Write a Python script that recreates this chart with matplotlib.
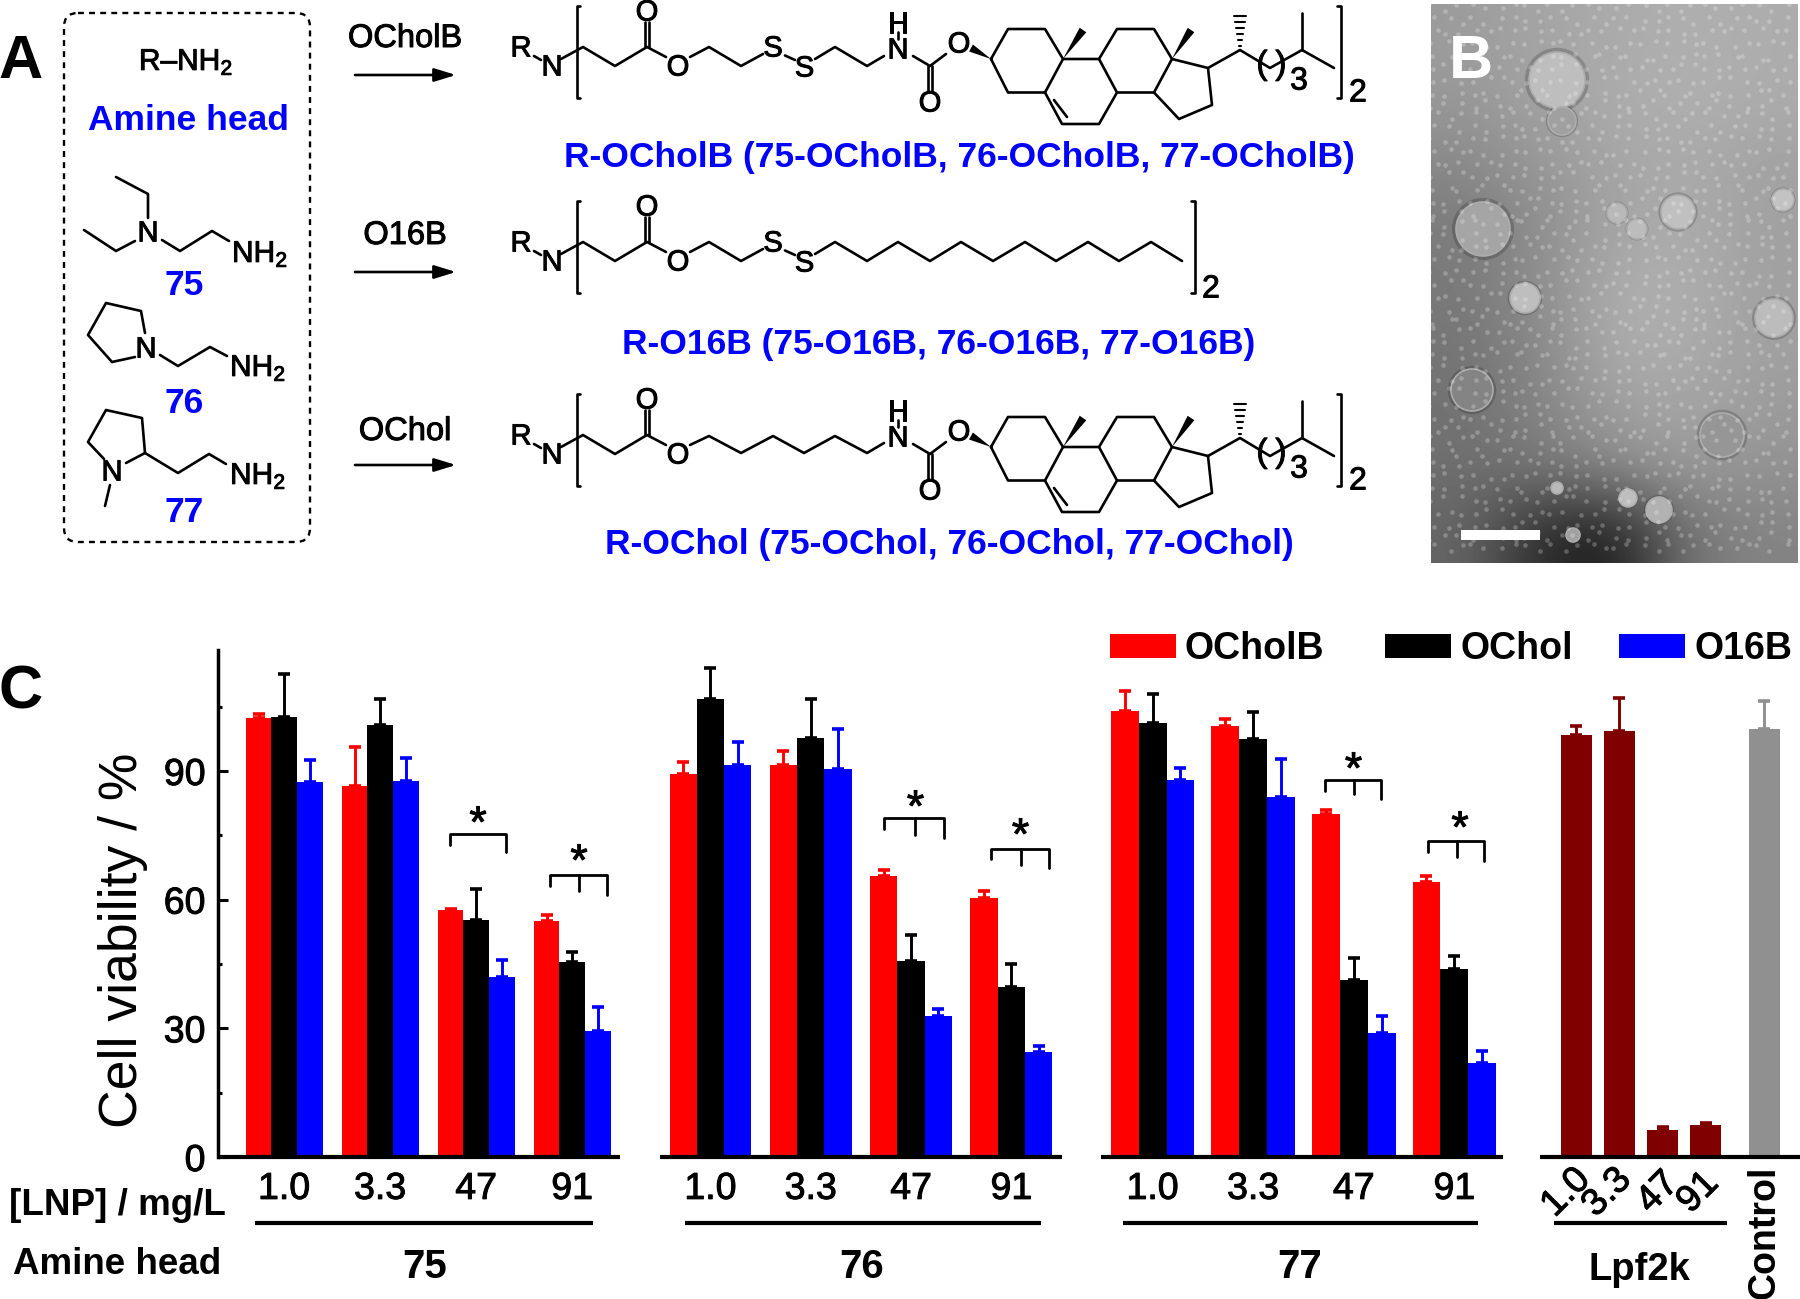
import numpy as np
import matplotlib
matplotlib.use('Agg')
import matplotlib.pyplot as plt
import matplotlib.patheffects as pe
from matplotlib.patches import Circle, FancyBboxPatch, Polygon, Rectangle

plt.rcParams['font.family'] = ['Liberation Sans', 'DejaVu Sans']
plt.rcParams['mathtext.fontset'] = 'custom'
plt.rcParams['mathtext.rm'] = 'Liberation Sans'
plt.rcParams['mathtext.bf'] = 'Liberation Sans:bold'

# Panel C values, order of doses is 1.0, 3.3, 47, 91
doses = ['1.0', '3.3', '47', '91']
ocholb_75 = [102.4, 86.6, 57.5, 55.1]
ochol_75 = [102.5, 100.8, 55.3, 45.4]
o16b_75 = [87.5, 87.7, 42.0, 29.3]
ocholb_76 = [89.4, 91.5, 65.5, 60.3]
ochol_76 = [106.7, 97.6, 45.8, 39.6]
o16b_76 = [91.4, 90.4, 32.9, 24.4]
ocholb_77 = [103.9, 100.4, 79.9, 64.1]
ochol_77 = [101.2, 97.5, 41.3, 43.8]
o16b_77 = [88.0, 83.9, 29.0, 21.9]
ocholb_75_err = [0.8, 9.0, 0.4, 1.3]
ochol_75_err = [10.0, 6.0, 7.2, 2.5]
o16b_75_err = [5.1, 5.3, 4.0, 5.7]
ocholb_76_err = [2.6, 3.2, 1.4, 1.7]
ochol_76_err = [7.2, 9.1, 5.9, 5.3]
o16b_76_err = [5.4, 9.3, 1.7, 1.5]
ocholb_77_err = [4.8, 1.8, 0.9, 1.5]
ochol_77_err = [6.8, 6.3, 5.2, 3.1]
o16b_77_err = [2.8, 8.9, 3.8, 2.8]
lpf2k = [98.4, 99.4, 6.4, 7.5]
lpf2k_err = [2.0, 7.7, 0.5, 0.5]
control = [99.8]
control_err = [6.4]

RED, BLUE, BLACK = '#ff0000', '#0000ff', '#000000'
MAROON, GRAY = '#800000', '#909090'
HEAVY = [pe.withStroke(linewidth=0.7, foreground='black')]

fig = plt.figure(figsize=(18, 12.99), dpi=100)

# overlay in image pixels, for the schemes and annotations
ov = fig.add_axes([0, 0, 1, 1])
ov.set_xlim(0, 1800)
ov.set_ylim(1299, 0)
ov.axis('off')


def txt(x, y, s, size=22, color='black', weight='normal', **kw):
    t = ov.text(x, y + 2.5, s, fontsize=size, color=color, fontweight=weight,
                ha=kw.pop('ha', 'center'), va=kw.pop('va', 'center'), **kw)
    if weight == 'normal' and color == 'black':
        t.set_path_effects(HEAVY)
    return t


def bond(*pts, lw=1.9):
    xs, ys = zip(*pts)
    ov.plot(xs, ys, color='black', lw=lw, solid_capstyle='round', solid_joinstyle='round')


def wedge(a, b, w=5.5):
    # narrow at a, wide at b
    a, b = np.array(a), np.array(b)
    d = b - a
    n = np.array([-d[1], d[0]]) / np.hypot(*d) * w
    ov.add_patch(Polygon([a, b + n, b - n], closed=True, color='black', lw=0))


# ---- panel A
ov.add_patch(FancyBboxPatch((64, 13), 246, 529, boxstyle='round,pad=0,rounding_size=14',
                            fc='none', ec='black', lw=1.7, ls=(0, (2.5, 2.2))))

txt(21, 60, 'A', size=44, weight='bold')
txt(186, 60, 'R–NH$_2$', size=21.5)
txt(188, 118, 'Amine head', size=25.5, color=BLUE, weight='bold')
txt(184, 283, '75', size=25.5, color=BLUE, weight='bold')
txt(184, 401, '76', size=25.5, color=BLUE, weight='bold')
txt(184, 510, '77', size=25.5, color=BLUE, weight='bold')

# amine 75
bond((116, 177), (148, 194), (148, 218))
bond((84, 230), (116, 251), (135, 241))
bond((162, 240), (180, 251), (212, 231), (229, 241))
txt(148, 231, 'N', size=21)
txt(232, 252, 'NH$_2$', size=21.5, ha='left')
# amine 76
bond((135, 357), (112, 362), (88, 335), (106, 303), (141, 311), (145, 333))
bond((160, 355), (178, 366), (210, 347), (227, 356))
txt(146, 347, 'N', size=21)
txt(230, 366, 'NH$_2$', size=21.5, ha='left')
# amine 77
bond((104, 459), (88, 442), (106, 410), (142, 418), (145, 453), (126, 463))
bond((145, 453), (178, 473), (209, 454), (226, 464))
bond((110, 485), (105, 506))
txt(112, 470, 'N', size=21)
txt(230, 474, 'NH$_2$', size=21.5, ha='left')

# reaction arrows
for lab, ya, yt in [('OCholB', 75, 36), ('O16B', 272, 233), ('OChol', 465, 429)]:
    txt(405, yt, lab, size=23.5)
    ov.annotate('', xy=(456, ya), xytext=(355, ya),
                arrowprops=dict(arrowstyle='-|>,head_length=1.3,head_width=0.4', color='black',
                                lw=1.9, shrinkA=0, shrinkB=0))


def lipid_head(dy):
    txt(521, 46 + dy, 'R', size=21)
    txt(552, 65 + dy, 'N', size=21)
    bond((534, 56 + dy), (541, 60 + dy))
    bond((561, 59 + dy), (583, 47 + dy), (615, 66 + dy), (647, 47 + dy), (666, 57 + dy))
    bond((645, 47 + dy), (645, 22 + dy))
    bond((649, 47 + dy), (649, 22 + dy))
    txt(647, 10 + dy, 'O', size=21)
    txt(678, 65 + dy, 'O', size=21)
    bond((580, 5.5 + dy), (576.5, 5.5 + dy), (576.5, 98 + dy), (580, 98 + dy))


def disulfide(dy):
    bond((690, 57 + dy), (709, 47 + dy), (741, 66 + dy), (763, 54 + dy))
    txt(773, 46 + dy, 'S', size=21)
    bond((785, 55.5 + dy), (795, 60 + dy))
    txt(804.5, 66 + dy, 'S', size=21)


def steroid(dy):
    txt(898, 22 + dy, 'H', size=21)
    txt(898, 48 + dy, 'N', size=21)
    bond((898, 32 + dy), (898, 39 + dy))
    bond((913, 56 + dy), (930, 66 + dy), (946, 54 + dy))
    bond((928, 66 + dy), (928, 91 + dy))
    bond((932, 66 + dy), (932, 91 + dy))
    txt(930, 101 + dy, 'O', size=21)
    txt(959, 42 + dy, 'O', size=21)
    wedge((991, 59 + dy), (971, 48 + dy), 4)
    bond((991, 59 + dy), (1008, 29 + dy), (1045, 29 + dy), (1063, 59 + dy), (1045, 92.5 + dy),
         (1008, 92.5 + dy), (991, 59 + dy))
    wedge((1063, 59 + dy), (1083, 30 + dy), 4)
    bond((1063, 59 + dy), (1099, 59 + dy), (1117, 92.5 + dy), (1099, 124 + dy), (1062, 124 + dy),
         (1045, 92.5 + dy))
    bond((1054, 100 + dy), (1067, 117 + dy))
    bond((1099, 59 + dy), (1117, 29 + dy), (1154, 29 + dy), (1172, 59 + dy), (1154, 92.5 + dy),
         (1117, 92.5 + dy))
    wedge((1172, 59 + dy), (1191, 30 + dy), 4)
    bond((1172, 59 + dy), (1208, 68 + dy), (1212, 105 + dy), (1179, 119 + dy), (1154, 92.5 + dy))
    bond((1208, 68 + dy), (1240, 50 + dy), (1270, 68 + dy), (1302, 50 + dy), (1334, 68 + dy))
    bond((1302, 50 + dy), (1302, 13 + dy))
    for k in range(6):
        h = 1.2 + k * 0.9
        yy = 46 - k * 6
        bond((1240 - h, yy + dy), (1240 + h, yy + dy), lw=1.5)
    txt(1262, 63 + dy, '(', size=24)
    txt(1281, 63 + dy, ')', size=24)
    txt(1299, 79 + dy, '3', size=23)


def right_bracket(x, dy):
    bond((x - 4, 5.5 + dy), (x, 5.5 + dy), (x, 98 + dy), (x - 4, 98 + dy))


lipid_head(0)
disulfide(0)
bond((815, 59), (835, 47), (867, 66), (884, 56))
steroid(0)
right_bracket(1341, 0)
txt(1358, 91, '2', size=23)

lipid_head(195)
disulfide(195)
bond((815, 254), (835, 242), (867, 261), (898, 242), (930, 261), (961, 242), (993, 261),
     (1025, 242), (1056, 261), (1088, 242), (1119, 261), (1151, 242), (1182, 261))
right_bracket(1195, 195)
txt(1211, 287, '2', size=23)

lipid_head(388)
bond((690, 445), (709, 436), (741, 453), (773, 436), (804, 453), (835, 436), (867, 453), (884, 443))
steroid(388)
right_bracket(1341, 388)
txt(1358, 479, '2', size=23)

txt(959, 155, 'R-OCholB (75-OCholB, 76-OCholB, 77-OCholB)', size=25.5, color=BLUE, weight='bold')
txt(939, 342, 'R-O16B (75-O16B, 76-O16B, 77-O16B)', size=25.5, color=BLUE, weight='bold')
txt(949, 542, 'R-OChol (75-OChol, 76-OChol, 77-OChol)', size=25.5, color=BLUE, weight='bold')

# ---- panel B, a stand-in for the micrograph
tem_levels = np.array([[155, 165, 170, 175, 172],
                       [152, 162, 172, 176, 172],
                       [138, 152, 166, 170, 162],
                       [122, 142, 164, 172, 160],
                       [122, 142, 174, 174, 160],
                       [116, 136, 174, 172, 160],
                       [114, 132, 160, 165, 155],
                       [110, 118, 138, 155, 145],
                       [102, 42, 25, 118, 132]])
ov.imshow(tem_levels, cmap='gray', vmin=0, vmax=255, extent=(1431, 1798, 563, 4), aspect='auto',
          interpolation='bicubic', zorder=0)
ov.set_xlim(0, 1800)
ov.set_ylim(1299, 0)

vesicles = [(1557, 80, 28, 190), (1562, 121, 14, 160), (1483, 229, 27, 165), (1617, 213, 10, 185),
            (1637, 229, 10, 188), (1678, 212, 17, 192), (1783, 200, 11, 195), (1525, 298, 15, 190),
            (1774, 318, 19, 188), (1472, 390, 21, 132), (1722, 435, 22, 150), (1557, 488, 6, 185),
            (1628, 498, 9, 190), (1659, 510, 13, 178), (1573, 535, 7, 160)]
for vx, vy, vr, lev in vesicles:
    ov.add_patch(Circle((vx, vy), vr * 1.15, fc='black', alpha=0.18, lw=0, zorder=2))
    ov.add_patch(Circle((vx, vy), vr, fc=str(lev / 255), ec='0.68', lw=1.2, zorder=3))

clip = Rectangle((1431, 4), 367, 559, transform=ov.transData, fc='none', ec='none')
ov.add_patch(clip)
sx, sy = [], []
for i, yy in enumerate(np.arange(8, 560, 12.0)):
    for j, xx in enumerate(np.arange(1434, 1796, 13.0)):
        sx.append(xx + (i * i * 5 + j * j * 3 + i * j) % 11 - 5)
        sy.append(yy + (i * j * 3 + j * j * 7 + i) % 9 - 4)
speck = ov.scatter(sx, sy, s=11, color='white', alpha=0.24, lw=0, zorder=4)
speck.set_clip_path(clip)

ov.add_patch(Rectangle((1461, 530), 79, 9.5, fc='white', lw=0, zorder=5))
ov.text(1471, 62, 'B', fontsize=44, color='white', fontweight='bold', ha='center', va='center', zorder=6)

# ---- panel C
ax = fig.add_axes([218 / 1800, (1299 - 1157) / 1299, (1800 - 218) / 1800, (1157 - 650) / 1299])
ax.patch.set_alpha(0)
ax.set_xlim(218, 1800)
ax.set_ylim(0, 118.2)

groups = [(245.7, 96.0, 25.6, ocholb_75, ochol_75, o16b_75, ocholb_75_err, ochol_75_err, o16b_75_err),
          (669.5, 100.3, 27.3, ocholb_76, ochol_76, o16b_76, ocholb_76_err, ochol_76_err, o16b_76_err),
          (1110.7, 100.6, 27.9, ocholb_77, ochol_77, o16b_77, ocholb_77_err, ochol_77_err, o16b_77_err)]
ekw = dict(capsize=4.2, capthick=2.6)
tick_x = []
tick_lab = []
for start, step, w, red, blk, blu, red_e, blk_e, blu_e in groups:
    left = start + np.arange(4) * step
    for k, (vals, errs, col) in enumerate([(red, red_e, RED), (blk, blk_e, BLACK), (blu, blu_e, BLUE)]):
        ax.bar(left + (k + 0.5) * w, vals, w, color=col, align='center',
               yerr=[np.zeros(4), errs], ecolor=col, error_kw=dict(elinewidth=2.1, **ekw))
    tick_x += list(left + 1.5 * w)
    tick_lab += doses

lpf_x = 1576 + np.arange(4) * 43.3
ax.bar(lpf_x, lpf2k, 31, color=MAROON, yerr=[np.zeros(4), lpf2k_err], ecolor=MAROON,
       error_kw=dict(elinewidth=2.1, **ekw))
ax.bar([1764], control, 31, color=GRAY, yerr=[[0], control_err], ecolor=GRAY,
       error_kw=dict(elinewidth=2.1, **ekw))

for a, b in [(218, 620), (660, 1062), (1101, 1503), (1540, 1800)]:
    ax.plot([a, b], [0, 0], color='black', lw=3, clip_on=False, solid_capstyle='butt')

for s in ['top', 'right', 'bottom']:
    ax.spines[s].set_visible(False)
ax.spines['left'].set_linewidth(2.5)
ax.set_yticks([0, 30, 60, 90])
ax.set_yticks([15, 45, 75, 105], minor=True)
ax.tick_params(axis='y', which='major', direction='in', length=7, width=2.2, labelsize=27, pad=9)
ax.tick_params(axis='y', which='minor', direction='in', length=3, width=2.2)
ax.set_xticks(tick_x, tick_lab)
ax.tick_params(axis='x', length=0, labelsize=27, pad=10)
for lab in ax.get_xticklabels() + ax.get_yticklabels():
    lab.set_path_effects(HEAVY)

txt(123, 938, 'Cell viability / %', size=38.5, rotation=90).set_path_effects([])
txt(21, 690, 'C', size=44, weight='bold')
txt(117, 1203, '[LNP] / mg/L', size=26.5, weight='bold')
txt(117, 1262, 'Amine head', size=26.5, weight='bold')

for lab, x in zip(doses, [1566, 1607, 1658, 1698]):
    txt(x, 1190, lab, size=27, rotation=45, rotation_mode='anchor')
txt(1764, 1230, 'Control', size=27, weight='bold', rotation=90)
txt(1639, 1267, 'Lpf2k', size=27.5, weight='bold')

for a, b in [(255, 593), (685, 1041), (1123, 1478), (1554, 1727)]:
    ov.plot([a, b], [1223, 1223], color='black', lw=3, solid_capstyle='butt')
for lab, x in [('75', 425), ('76', 862), ('77', 1300)]:
    txt(x, 1264, lab, size=29, weight='bold')

# significance brackets: x0, mid, x1, top, left leg, mid leg, right leg, star x, star y
brackets = [(449.5, None, 505.7, 834, 845, None, 852, 478, 823),
            (550, 578.6, 606.8, 875, 886, 891, 894.5, 579, 861),
            (884, 915, 943.6, 818, 829, 835, 838, 915.5, 807),
            (990.7, 1020.5, 1049, 848.5, 859, 864.5, 868, 1020.5, 835),
            (1324.8, 1353.5, 1381, 780, 791, 794, 798.5, 1353.5, 769),
            (1428, 1457, 1484.4, 841, 852, 857, 861, 1460, 828)]
for x0, xm, x1, top, l0, lm, l1, sx_, sy_ in brackets:
    bond((x0, l0), (x0, top), (x1, top), (x1, l1), lw=2.0)
    if xm is not None:
        bond((xm, top), (xm, lm), lw=2.0)
    txt(sx_, sy_, '*', size=32)

# legend
for x0, col, lab, xt in [(1109.5, RED, 'OCholB', 1185), (1385, BLACK, 'OChol', 1461), (1619, BLUE, 'O16B', 1695)]:
    ov.add_patch(Rectangle((x0, 633.5), 66, 24, fc=col, lw=0))
    txt(xt, 646, lab, size=27, weight='bold', ha='left')

fig.savefig('out.png', dpi=100)
